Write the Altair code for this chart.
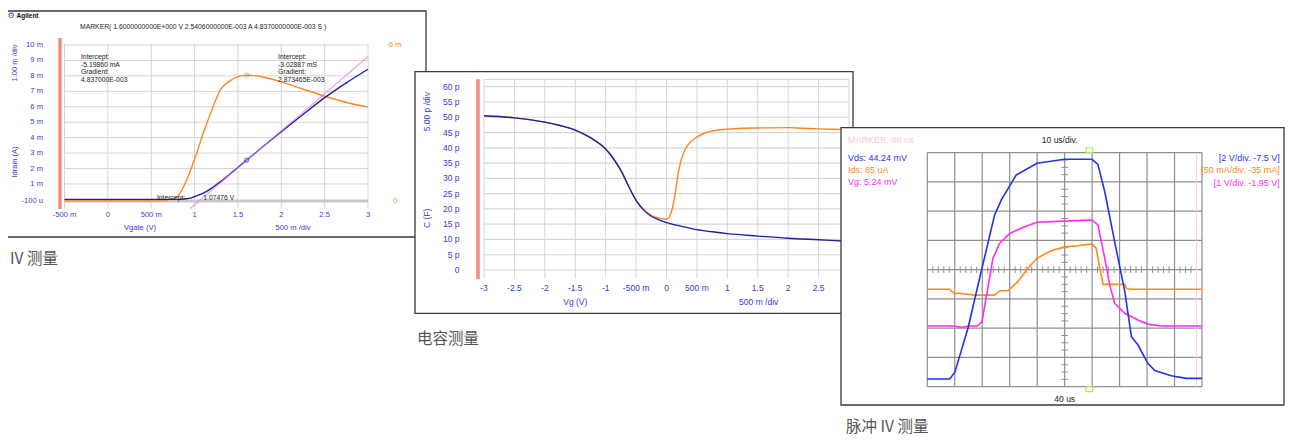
import altair as alt
import pandas as pd

# ---------------- data: panel 1 (IV) ----------------
iv_vg = [-0.5, 0.0, 0.5, 0.7, 0.8, 0.85, 0.9, 0.95, 1.0, 1.1, 1.15, 1.2, 1.3, 1.4, 1.5, 1.6, 1.8, 2.0, 2.25, 2.5, 2.75, 3.0]
iv_id_ma = [0.0, 0.0, 0.0, 0.0, 0.0, 0.02, 0.04, 0.08, 0.18, 0.4, 0.55, 0.75, 1.15, 1.6, 2.07, 2.54, 3.47, 4.38, 5.5, 6.59, 7.55, 8.43]
gm_vg = [-0.5, 0.0, 0.5, 0.65, 0.7, 0.8, 0.9, 1.0, 1.1, 1.2, 1.3, 1.4, 1.5, 1.6, 1.7, 1.8, 2.0, 2.2, 2.5, 2.8, 3.0]
gm_ms = [0.0, 0.0, 0.0, 0.0, 0.05, 0.16, 0.74, 1.6, 2.6, 3.5, 4.29, 4.6, 4.78, 4.837, 4.82, 4.76, 4.58, 4.36, 4.03, 3.75, 3.62]
tangent_vg = [0.95, 3.0]
tangent_id_ma = [-0.6, 9.25]
marker_vg = [1.6]
marker_id_ma = [2.54]
marker_gm_ms = [4.837]
iv_xticks = [-0.5, 0.0, 0.5, 1.0, 1.5, 2.0, 2.5, 3.0]
iv_xlabels = ["-500 m", "0", "500 m", "1", "1.5", "2", "2.5", "3"]
iv_yticks = [-0.1, 1, 2, 3, 4, 5, 6, 7, 8, 9, 10]
iv_ylabels = ["-100 u", "1 m", "2 m", "3 m", "4 m", "5 m", "6 m", "7 m", "8 m", "9 m", "10 m"]
iv_gm_ticks = [0, 6]
iv_gm_labels = ["0", "6 m"]
iv_note_left = ["Intercept:", "-5.19860 mA", "Gradient:", "4.837000E-003"]
iv_note_right = ["Intercept:", "-3.02887 mS", "Gradient:", "2.873465E-003"]
iv_header = "MARKER(  1.6000000000E+000 V   2.5406000000E-003 A   4.8370000000E-003 S )"

# ---------------- data: panel 2 (CV) ----------------
cv_vg_blue = [-3.0, -2.5, -2.0, -1.75, -1.5, -1.25, -1.0, -0.875, -0.75, -0.625, -0.5, -0.375, -0.25, -0.125, 0.0, 0.25, 0.5, 0.75, 1.0, 1.5, 2.0, 2.5, 2.9]
cv_c_blue = [50.5, 49.8, 48.4, 47.3, 45.8, 43.3, 39.6, 36.5, 32.6, 27.5, 22.8, 19.6, 17.6, 16.4, 15.5, 14.3, 13.2, 12.5, 11.9, 11.1, 10.4, 9.9, 9.5]
cv_vg_orange = [-3.0, -2.5, -2.0, -1.75, -1.5, -1.25, -1.0, -0.875, -0.75, -0.625, -0.5, -0.375, -0.25, -0.125, 0.0, 0.05, 0.1, 0.15, 0.2, 0.3, 0.4, 0.5, 0.6, 0.75, 1.0, 1.25, 1.5, 2.0, 2.25, 2.5, 2.9]
cv_c_orange = [50.5, 49.8, 48.4, 47.3, 45.8, 43.3, 39.6, 36.5, 32.6, 27.5, 22.9, 19.8, 17.9, 17.0, 16.7, 17.5, 20.5, 26.0, 32.5, 39.3, 42.0, 43.5, 44.6, 45.5, 46.1, 46.4, 46.5, 46.6, 46.4, 46.2, 46.0]
cv_xticks = [-3.0, -2.5, -2.0, -1.5, -1.0, -0.5, 0.0, 0.5, 1.0, 1.5, 2.0, 2.5, 3.0]
cv_xlabels = ["-3", "-2.5", "-2", "-1.5", "-1", "-500 m", "0", "500 m", "1", "1.5", "2", "2.5", "3"]
cv_yticks = [0, 5, 10, 15, 20, 25, 30, 35, 40, 45, 50, 55, 60]
cv_ylabels = ["0", "5 p", "10 p", "15 p", "20 p", "25 p", "30 p", "35 p", "40 p", "45 p", "50 p", "55 p", "60 p"]

# ---------------- data: panel 3 (pulsed IV) ----------------
p_t_vds = [-10, -1.85, 0.0, 4.8, 9.9, 14.5, 16.95, 22.4, 29.9, 40.0, 49.96, 52.1, 54.6, 58.2, 61.9, 64.3, 66.7, 70.3, 72.8, 78.8, 84.3, 90]
p_vds = [0.03, 0.03, 0.48, 3.5, 7.6, 11.24, 12.27, 13.98, 14.78, 15.05, 15.05, 14.7, 12.83, 9.42, 6.0, 2.92, 2.35, 1.1, 0.6, 0.25, 0.07, 0.07]
p_t_vg = [-10, -0.2, 2.4, 5.5, 8.2, 9.9, 13.9, 16.3, 20.0, 25.5, 29.9, 40.0, 50.0, 52.1, 54.6, 56.4, 58.2, 61.9, 66.7, 70.3, 75.2, 90]
p_vg = [0.025, 0.025, -0.02, 0.025, 0.025, 0.17, 2.34, 2.85, 3.19, 3.42, 3.57, 3.61, 3.65, 3.48, 2.34, 1.43, 0.8, 0.46, 0.23, 0.09, 0.025, 0.025]
p_t_ids = [-10, -1.85, 0.0, 1.2, 3.0, 7.25, 14.5, 16.3, 19.3, 23.0, 26.6, 29.9, 35.1, 40.0, 44.8, 50.0, 51.5, 52.8, 54.0, 61.9, 62.6, 64.3, 90]
p_ids = [1.5, 1.5, -6.5, -5.0, -6.0, -8.4, -8.4, -1.0, -1.0, 14.5, 37.5, 54.5, 67.5, 74.0, 76.0, 79.0, 71.5, 37.5, 10.0, 10.0, 3.0, 1.5, 1.5]
p_grid_t = [-10, 0, 10, 20, 30, 40, 50, 60, 70, 80, 90]
p_grid_div = [0, 1, 2, 3, 4, 5, 6, 7, 8]
p_minor_t = [t for t in range(-8, 90, 2) if t % 10 != 0]
p_minor_div = [d / 4 for d in range(1, 32) if d % 4 != 0]
p_marker_t = [88]
p_trigger_t = [47.8, 50.2]

# ---------------- style ----------------
OFF = 8
FONT = "Liberation Sans"
CJK = "Noto Sans CJK SC"
BLUE_TXT = "#3a3ad2"
ORANGE = "#ff8424"
NAVY = "#1e1ea6"
PINK = "#e47ae8"
RED_BAR = "#f08a8a"
GRID = "#d6d6d6"
P3_BLUE = "#1f35e6"
P3_MAG = "#ff2cf0"
P3_ORANGE = "#ff8a1c"
P3_GRID = "#8f8f8f"
FRAME = "#3a3a3a"


def sc(domain, r0, r1):
    return alt.Scale(domain=domain, range=[r0 - OFF, r1 - OFF], nice=False, zero=False)


def X(field, s):
    return alt.X(field, type="quantitative", scale=s, axis=None)


def Y(field, s):
    return alt.Y(field, type="quantitative", scale=s, axis=None)


def one():
    return pd.DataFrame({"a": [0]})


def frame(x0, x1, y0, y1, stroke=FRAME, sw=1.3, fill="white"):
    return alt.Chart(one()).mark_rect(fill=fill, stroke=stroke, strokeWidth=sw).encode(
        x=alt.value(x0 - OFF), x2=alt.value(x1 - OFF), y=alt.value(y0 - OFF), y2=alt.value(y1 - OFF))


def txt(s, x, y, color, size, align="left", bold=False, angle=0, font=FONT):
    kw = dict(align=align, baseline="middle", color=color, fontSize=size, font=font,
              fontWeight="bold" if bold else "normal")
    if angle:
        kw["angle"] = angle
    return alt.Chart(pd.DataFrame({"t": [s]})).mark_text(**kw).encode(
        text="t:N", x=alt.value(x - OFF), y=alt.value(y - OFF))


def vgrid(vals, lo, hi, xs, ys, color, w):
    df = pd.DataFrame({"v": vals, "lo": [lo] * len(vals), "hi": [hi] * len(vals)})
    return alt.Chart(df).mark_rule(color=color, strokeWidth=w).encode(
        x=X("v", xs), y=Y("lo", ys), y2="hi")


def hgrid(vals, lo, hi, xs, ys, color, w):
    df = pd.DataFrame({"v": vals, "lo": [lo] * len(vals), "hi": [hi] * len(vals)})
    return alt.Chart(df).mark_rule(color=color, strokeWidth=w).encode(
        y=Y("v", ys), x=X("lo", xs), x2="hi")


def line(xv, yv, xs, ys, color, w, opacity=1.0, interp="linear"):
    df = pd.DataFrame({"x": xv, "y": yv, "o": list(range(len(xv)))})
    return alt.Chart(df).mark_line(color=color, strokeWidth=w, opacity=opacity, interpolate=interp).encode(
        x=X("x", xs), y=Y("y", ys), order="o:Q")


layers = []

# ================= panel 1 =================
xs1 = sc([-0.5, 3.0], 64.5, 368)
ys1 = sc([0, 10], 199.4, 45)
ys1g = sc([0, 6], 200.9, 45)

layers.append(frame(6.5, 426, 11, 237))
layers.append(vgrid(iv_xticks, -0.6, 10.1, xs1, ys1, GRID, 1))
layers.append(hgrid(iv_yticks[1:], -0.5, 3.0, xs1, ys1, GRID, 1))
layers.append(hgrid(iv_yticks[:1], -0.5, 3.0, xs1, ys1, "#c8c8c8", 3))
layers.append(alt.Chart(one()).mark_rule(color=RED_BAR, strokeWidth=3.5).encode(
    x=alt.value(60 - OFF), y=alt.value(38 - OFF), y2=alt.value(209 - OFF)))
layers.append(line(gm_vg, gm_ms, xs1, ys1g, ORANGE, 1.4, interp="monotone"))
layers.append(line(iv_vg, iv_id_ma, xs1, ys1, NAVY, 1.4, interp="monotone"))
layers.append(line(tangent_vg, tangent_id_ma, xs1, ys1, PINK, 1.1, 0.85))
layers.append(alt.Chart(pd.DataFrame({"x": marker_vg, "y": marker_id_ma})).mark_point(
    shape="circle", filled=False, size=18, color=NAVY, strokeWidth=1).encode(x=X("x", xs1), y=Y("y", ys1)))
layers.append(alt.Chart(pd.DataFrame({"x": marker_vg, "y": marker_gm_ms})).mark_point(
    shape="circle", filled=False, size=18, color=ORANGE, strokeWidth=1).encode(x=X("x", xs1), y=Y("y", ys1g)))
# tick labels
layers.append(alt.Chart(pd.DataFrame({"v": iv_yticks, "l": iv_ylabels})).mark_text(
    align="right", baseline="middle", color=BLUE_TXT, fontSize=7.6, font=FONT).encode(
    x=alt.value(43 - OFF), y=Y("v", ys1), text="l:N"))
layers.append(alt.Chart(pd.DataFrame({"v": iv_xticks, "l": iv_xlabels})).mark_text(
    align="center", baseline="middle", color=BLUE_TXT, fontSize=7.6, font=FONT).encode(
    y=alt.value(215 - OFF), x=X("v", xs1), text="l:N"))
layers.append(alt.Chart(pd.DataFrame({"v": iv_gm_ticks, "l": iv_gm_labels})).mark_text(
    align="center", baseline="middle", color=ORANGE, fontSize=7.6, font=FONT).encode(
    x=alt.value(395 - OFF), y=Y("v", ys1g), text="l:N"))
# annotations (in data coordinates)
note_y = [9.24, 8.72, 8.22, 7.72]
layers.append(alt.Chart(pd.DataFrame({"x": [-0.31] * 4, "y": note_y, "l": iv_note_left})).mark_text(
    align="left", baseline="middle", color="#222222", fontSize=6.8, font=FONT).encode(
    x=X("x", xs1), y=Y("y", ys1), text="l:N"))
layers.append(alt.Chart(pd.DataFrame({"x": [1.963] * 4, "y": note_y, "l": iv_note_right})).mark_text(
    align="left", baseline="middle", color="#222222", fontSize=6.8, font=FONT).encode(
    x=X("x", xs1), y=Y("y", ys1), text="l:N"))
layers.append(alt.Chart(pd.DataFrame({"x": [0.566, 1.1], "y": [0.11, 0.11], "l": ["Intercept:", "1.07476 V"]})).mark_text(
    align="left", baseline="middle", color="#222222", fontSize=6.8, font=FONT).encode(
    x=X("x", xs1), y=Y("y", ys1), text="l:N"))
layers.append(txt("\u2699", 11, 16, "#2a4fd0", 8, align="center", font="DejaVu Sans"))
layers.append(txt("Agilent", 16.5, 16, "#111111", 6.5, bold=True))
layers.append(txt(iv_header, 80, 26.7, "#222222", 6.8))
layers.append(txt("1.00 m /div", 15, 63, BLUE_TXT, 7.6, align="center", angle=270))
layers.append(txt("Idrain (A)", 15, 162, BLUE_TXT, 7.6, align="center", angle=270))
layers.append(txt("Vgate (V)", 140, 228, BLUE_TXT, 7.6, align="center"))
layers.append(txt("500 m /div", 293, 228, BLUE_TXT, 7.6, align="center"))

# ================= panel 2 =================
xs2 = sc([-3.0, 3.0], 484, 849)
ys2 = sc([0, 60], 270, 86.7)

layers.append(frame(415, 853, 71.7, 313.3))
layers.append(vgrid(cv_xticks, -2.7, 62.4, xs2, ys2, GRID, 1))
layers.append(hgrid(cv_yticks + [62.4], -3.0, 3.0, xs2, ys2, GRID, 1.2))
layers.append(alt.Chart(one()).mark_rule(color=RED_BAR, strokeWidth=3.5).encode(
    x=alt.value(478 - OFF), y=alt.value(79.3 - OFF), y2=alt.value(279.3 - OFF)))
layers.append(line(cv_vg_orange, cv_c_orange, xs2, ys2, ORANGE, 1.4, interp="monotone"))
layers.append(line(cv_vg_blue, cv_c_blue, xs2, ys2, NAVY, 1.4, interp="monotone"))
layers.append(alt.Chart(pd.DataFrame({"v": cv_yticks, "l": cv_ylabels})).mark_text(
    align="right", baseline="middle", color=BLUE_TXT, fontSize=8.5, font=FONT).encode(
    x=alt.value(459.5 - OFF), y=Y("v", ys2), text="l:N"))
layers.append(alt.Chart(pd.DataFrame({"v": cv_xticks, "l": cv_xlabels})).mark_text(
    align="center", baseline="middle", color=BLUE_TXT, fontSize=8.5, font=FONT).encode(
    y=alt.value(288.3 - OFF), x=X("v", xs2), text="l:N"))
layers.append(txt("5.00 p /div", 427, 111.7, BLUE_TXT, 8.5, align="center", angle=270))
layers.append(txt("C (F)", 427, 218.3, BLUE_TXT, 8.5, align="center", angle=270))
layers.append(txt("Vg (V)", 575.3, 301.7, BLUE_TXT, 8.5, align="center"))
layers.append(txt("500 m /div", 758.7, 301.7, BLUE_TXT, 8.5, align="center"))

# ================= panel 3 =================
ts = sc([-10, 90], 927.3, 1202)
ds = sc([0, 8], 386.7, 152.7)
vds_s = sc([-0.5, 15.5], 386.7, 152.7)
ids_s = sc([-165, 235], 386.7, 152.7)
vg_s = sc([-2.05, 5.95], 386.7, 152.7)

layers.append(frame(841, 1284, 127.7, 405))
layers.append(vgrid(p_grid_t, 0, 8, ts, ds, P3_GRID, 1.2))
layers.append(hgrid(p_grid_div, -10, 90, ts, ds, P3_GRID, 1.2))
layers.append(vgrid(p_minor_t, 4 - 0.113, 4 + 0.113, ts, ds, P3_GRID, 1))
layers.append(hgrid(p_minor_div, 40 - 1.2, 40 + 1.2, ts, ds, P3_GRID, 1))
layers.append(vgrid(p_marker_t, 0, 8, ts, ds, "#ffd0d6", 1))
layers.append(alt.Chart(pd.DataFrame({"a": [p_trigger_t[0]], "b": [p_trigger_t[1]], "lo": [8.0], "hi": [8.17]})).mark_rect(
    fillOpacity=0, stroke="#a6ee55", strokeWidth=1.2).encode(x=X("a", ts), x2="b", y=Y("lo", ds), y2="hi"))
layers.append(alt.Chart(pd.DataFrame({"a": [p_trigger_t[0]], "b": [p_trigger_t[1]], "lo": [-0.17], "hi": [0.0]})).mark_rect(
    fillOpacity=0, stroke="#a6ee55", strokeWidth=1.2).encode(x=X("a", ts), x2="b", y=Y("lo", ds), y2="hi"))
layers.append(line(p_t_ids, p_ids, ts, ids_s, P3_ORANGE, 1.6))
layers.append(line(p_t_vg, p_vg, ts, vg_s, P3_MAG, 1.6))
layers.append(line(p_t_vds, p_vds, ts, vds_s, P3_BLUE, 1.6))
layers.append(txt("MARKER: 88 us", 848, 140, "#ffc4cc", 9))
layers.append(txt("Vds: 44.24 mV", 848, 158.3, P3_BLUE, 9))
layers.append(txt("Ids: 85 uA", 848, 170.3, P3_ORANGE, 9))
layers.append(txt("Vg: 5.24 mV", 848, 182.3, P3_MAG, 9))
layers.append(txt("10 us/div.", 1059.7, 140, "#222222", 8.5, align="center"))
layers.append(txt("40 us", 1064.7, 399, "#222222", 8.5, align="center"))
layers.append(txt("[2 V/div. -7.5 V]", 1279.7, 158.3, P3_BLUE, 9, align="right"))
layers.append(txt("[50 mA/div. -35 mA]", 1279.7, 170.3, P3_ORANGE, 9, align="right"))
layers.append(txt("[1 V/div. -1.95 V]", 1279.7, 183.3, P3_MAG, 9, align="right"))

# ================= captions =================
layers.append(txt("IV 测量", 10, 259, "#555555", 15.5, font=CJK))
layers.append(txt("电容测量", 417, 339, "#555555", 15.5, font=CJK))
layers.append(txt("脉冲 IV 测量", 846, 426.5, "#555555", 15.5, font=CJK))

chart = alt.layer(*layers).resolve_scale(x="independent", y="independent").properties(
    width=1278, height=434, autosize=alt.AutoSizeParams(type="none"), padding=0
).configure_view(stroke=None)

chart.save("out.html", embed_options={"renderer": "svg", "actions": False})
